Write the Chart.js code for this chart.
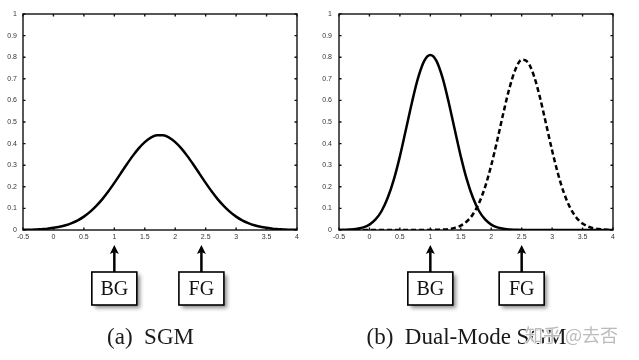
<!DOCTYPE html>
<html>
<head>
<meta charset="utf-8">
<script src="https://cdn.jsdelivr.net/npm/chart.js@4.4.0/dist/chart.umd.min.js"></script>
<style>
  html, body { margin: 0; padding: 0; background: #fff; }
  #wrap { position: relative; width: 639px; height: 360px; overflow: hidden; }
  .panel { position: absolute; top: 0; }
</style>
</head>
<body>
<div id="wrap">
  <div class="panel" style="left:0"><canvas id="sgm" width="320" height="360"></canvas></div>
  <div class="panel" style="left:320px"><canvas id="dual" width="319" height="360"></canvas></div>
</div>
<script>
// sample positions along x
const xValues = [
  -0.5, -0.4, -0.3, -0.2, -0.1, 0, 0.1, 0.2, 0.3, 0.4,
  0.5, 0.6, 0.7, 0.8, 0.9, 1.0, 1.1, 1.2, 1.3, 1.4,
  1.5, 1.6, 1.7, 1.8, 1.9, 2.0, 2.1, 2.2, 2.3, 2.4,
  2.5, 2.6, 2.7, 2.8, 2.9, 3.0, 3.1, 3.2, 3.3, 3.4,
  3.5, 3.6, 3.7, 3.8, 3.9, 4.0
]

// (a) single gaussian model
const sgm = [
  0.001, 0.001, 0.002, 0.004, 0.006, 0.010, 0.015, 0.022, 0.032, 0.045,
  0.062, 0.084, 0.111, 0.142, 0.178, 0.218, 0.260, 0.302, 0.342, 0.378,
  0.407, 0.428, 0.439, 0.439, 0.428, 0.407, 0.378, 0.342, 0.302, 0.260,
  0.218, 0.178, 0.142, 0.111, 0.084, 0.062, 0.045, 0.032, 0.022, 0.015,
  0.010, 0.006, 0.004, 0.002, 0.001, 0.001
]

// (b) dual-mode: background (solid) and foreground (dashed)
const bgMode = [
  0, 0.001, 0.002, 0.006, 0.012, 0.025, 0.049, 0.088, 0.149, 0.233,
  0.341, 0.466, 0.593, 0.705, 0.783, 0.810, 0.783, 0.705, 0.593, 0.466,
  0.341, 0.233, 0.149, 0.088, 0.049, 0.025, 0.012, 0.006, 0.002, 0.001,
  0, 0, 0, 0, 0, 0, 0, 0, 0, 0,
  0, 0, 0, 0, 0, 0
]
const fgMode = [
  0, 0, 0, 0, 0, 0, 0, 0, 0, 0,
  0, 0, 0, 0, 0, 0, 0.001, 0.002, 0.004, 0.010,
  0.020, 0.040, 0.073, 0.125, 0.200, 0.299, 0.417, 0.542, 0.658, 0.745,
  0.788, 0.777, 0.715, 0.614, 0.492, 0.368, 0.257, 0.167, 0.101, 0.057,
  0.030, 0.015, 0.007, 0.003, 0.001, 0
]

const xTicks = [-0.5, 0, 0.5, 1, 1.5, 2, 2.5, 3, 3.5, 4]
const yTicks = [0, 0.1, 0.2, 0.3, 0.4, 0.5, 0.6, 0.7, 0.8, 0.9, 1]
// where the BG / FG arrows point, per panel
const markersA = [{ label: 'BG', at: 1 }, { label: 'FG', at: 2.43 }]
const markersB = [{ label: 'BG', at: 1 }, { label: 'FG', at: 2.5 }]

const toPoints = ys => xValues.map((x, i) => ({ x: x, y: ys[i] }))

// box, inward ticks, arrows + labels, caption
const framePlugin = {
  id: 'frame',
  beforeDatasetsDraw(chart) {
    const { ctx, chartArea: a, scales: { x, y } } = chart
    const t = 2.5
    ctx.save()
    ctx.strokeStyle = '#111'
    ctx.lineWidth = 1.4
    ctx.strokeRect(a.left, a.top, a.right - a.left, a.bottom - a.top)
    ctx.beginPath()
    xTicks.forEach(v => {
      const px = x.getPixelForValue(v)
      ctx.moveTo(px, a.bottom); ctx.lineTo(px, a.bottom - t)
      ctx.moveTo(px, a.top); ctx.lineTo(px, a.top + t)
    })
    yTicks.forEach(v => {
      const py = y.getPixelForValue(v)
      ctx.moveTo(a.left, py); ctx.lineTo(a.left + t, py)
      ctx.moveTo(a.right, py); ctx.lineTo(a.right - t, py)
    })
    ctx.stroke()
    ctx.restore()
  },
  afterDraw(chart, args, opts) {
    const { ctx, scales: { x } } = chart
    const tip = 245, boxTop = 272, boxW = 45, boxH = 33
    ctx.save()
    opts.markers.forEach(m => {
      const cx = x.getPixelForValue(m.at)
      ctx.strokeStyle = '#000'
      ctx.fillStyle = '#000'
      ctx.lineWidth = 2.5
      ctx.beginPath()
      ctx.moveTo(cx, boxTop)
      ctx.lineTo(cx, tip + 6)
      ctx.stroke()
      ctx.beginPath()
      ctx.moveTo(cx, tip)
      ctx.lineTo(cx - 4.5, tip + 9)
      ctx.lineTo(cx, tip + 7)
      ctx.lineTo(cx + 4.5, tip + 9)
      ctx.closePath()
      ctx.fill()

      ctx.save()
      ctx.shadowColor = 'rgba(0,0,0,0.45)'
      ctx.shadowBlur = 4
      ctx.shadowOffsetX = 3
      ctx.shadowOffsetY = 3
      ctx.fillStyle = '#fff'
      ctx.fillRect(cx - boxW / 2, boxTop, boxW, boxH)
      ctx.restore()
      ctx.lineWidth = 1.6
      ctx.strokeRect(cx - boxW / 2, boxTop, boxW, boxH)

      ctx.font = '20px "Liberation Serif"'
      ctx.textAlign = 'center'
      ctx.textBaseline = 'middle'
      ctx.fillStyle = '#111'
      ctx.fillText(m.label, cx, boxTop + boxH / 2 + 1)
    })

    ctx.font = '23px "Liberation Serif"'
    ctx.textAlign = 'center'
    ctx.textBaseline = 'alphabetic'
    ctx.fillStyle = '#1a1a1a'
    ctx.fillText(opts.caption, opts.captionX, 344)

    if (opts.watermark) {
      ctx.font = '18px "Noto Sans CJK SC"'
      ctx.textAlign = 'left'
      ctx.strokeStyle = 'rgba(255,255,255,0.9)'
      ctx.lineWidth = 1.5
      ctx.strokeText(opts.watermark, 205, 342)
      ctx.fillStyle = 'rgba(175,175,175,0.85)'
      ctx.fillText(opts.watermark, 205, 342)
    }
    ctx.restore()
  }
}

function makeChart(id, datasets, yWidth, yPad, rightPad, plugOpts) {
  const canvas = document.getElementById(id)
  return new Chart(canvas.getContext('2d'), {
    type: 'line',
    data: { datasets: datasets },
    options: {
      responsive: false,
      animation: false,
      layout: { padding: { left: 0, top: 14, right: rightPad, bottom: 110 } },
      plugins: { legend: { display: false }, tooltip: { enabled: false }, frame: plugOpts },
      elements: { point: { radius: 0 } },
      scales: {
        x: {
          type: 'linear',
          min: -0.5,
          max: 4,
          grid: { display: false, drawTicks: false },
          border: { display: false },
          afterBuildTicks: s => { s.ticks = xTicks.map(v => ({ value: v })) },
          afterFit: s => { s.height = 20 },
          ticks: {
            padding: 3,
            maxRotation: 0,
            autoSkip: false,
            color: '#333',
            font: { family: '"Liberation Sans"', size: 7 },
            callback: v => String(v)
          }
        },
        y: {
          min: 0,
          max: 1,
          grid: { display: false, drawTicks: false },
          border: { display: false },
          afterBuildTicks: s => { s.ticks = yTicks.map(v => ({ value: v })) },
          afterFit: s => { s.width = yWidth },
          ticks: {
            padding: yPad,
            autoSkip: false,
            color: '#333',
            font: { family: '"Liberation Sans"', size: 7 },
            callback: v => String(v)
          }
        }
      }
    },
    plugins: [framePlugin]
  })
}

const lineStyle = {
  borderColor: '#000',
  borderWidth: 2.5,
  fill: false,
  cubicInterpolationMode: 'monotone'
}

makeChart('sgm', [
  Object.assign({ label: 'SGM', data: toPoints(sgm) }, lineStyle)
], 23, 6, 23, { caption: '(a)  SGM', captionX: 150.5, markers: markersA })

makeChart('dual', [
  Object.assign({ label: 'BG', data: toPoints(bgMode) }, lineStyle),
  Object.assign({ label: 'FG', data: toPoints(fgMode), borderDash: [5, 3] }, lineStyle)
], 19, 7, 26, { caption: '(b)  Dual-Mode SGM', captionX: 146.5, markers: markersB, watermark: '知乎 @去否' })
</script>
</body>
</html>
